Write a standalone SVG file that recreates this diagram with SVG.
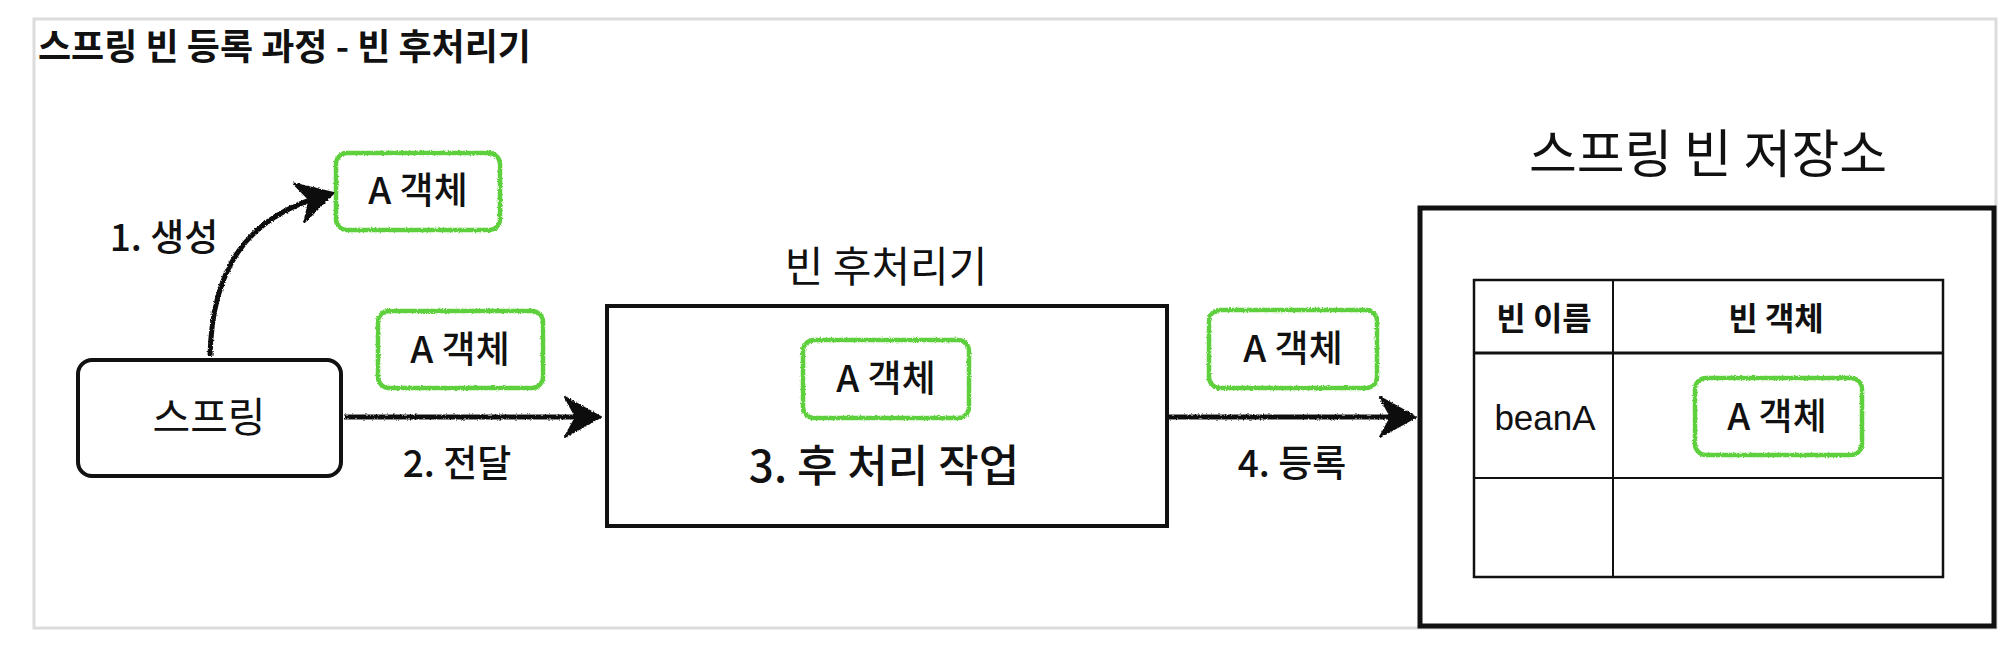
<svg xmlns="http://www.w3.org/2000/svg" width="2000" height="659" viewBox="0 0 2000 659">
<style>
text{font-family:"Noto Sans CJK KR","Noto Sans",sans-serif;fill:#111;}
.obj{fill:#fff;stroke:#5fd03c;stroke-width:4.5;filter:url(#rough);}
.objt{font-size:37px;font-weight:500;text-anchor:middle;}
.lbl{font-size:37px;font-weight:500;text-anchor:middle;}
.conn{fill:none;stroke:#111;stroke-width:5;filter:url(#rough);}
.box{fill:#fff;stroke:#111;}
.th{font-size:32px;font-weight:700;text-anchor:middle;}
</style>
<defs>
<filter id="rough" filterUnits="userSpaceOnUse" x="0" y="0" width="2000" height="659">
<feTurbulence type="fractalNoise" baseFrequency="0.6" numOctaves="2" seed="3" result="n"/>
<feDisplacementMap in="SourceGraphic" in2="n" scale="3" xChannelSelector="R" yChannelSelector="G"/>
</filter>
<marker id="ah" markerUnits="userSpaceOnUse" viewBox="0 0 40 44" refX="26" refY="22" markerWidth="40" markerHeight="44" orient="auto">
<path d="M1,2 L37,22 L1,42 L12,22 Z" fill="#111" stroke="#111" stroke-width="2" stroke-linejoin="round"/>
</marker>
</defs>
<rect width="2000" height="659" fill="#fff"/>
<rect id="frame" x="34" y="19" width="1962" height="609" fill="none" stroke="#dcdcdc" stroke-width="3"/>
<text id="title" x="38" y="60" style="font-size:36px;font-weight:700;">스프링 빈 등록 과정 - 빈 후처리기</text>

<g id="spring">
<rect class="box" x="78" y="360" width="263" height="116" rx="14" stroke-width="4"/>
<text x="209" y="432" style="font-size:41px;text-anchor:middle;">스프링</text>
</g>

<g id="objCreated">
<rect class="obj" x="336" y="153" width="164" height="77" rx="11"/>
<text class="objt" x="418" y="204">A 객체</text>
</g>

<g id="objPassed">
<rect class="obj" x="378" y="311" width="165" height="77" rx="11"/>
<text class="objt" x="460" y="363">A 객체</text>
</g>

<g id="postProcessor">
<text x="886" y="282" style="font-size:42px;text-anchor:middle;">빈 후처리기</text>
<rect class="box" x="607" y="306" width="560" height="220" stroke-width="4"/>
<rect class="obj" x="803" y="340" width="166" height="78" rx="11"/>
<text class="objt" x="886" y="392">A 객체</text>
<text x="884" y="482" style="font-size:44px;font-weight:500;text-anchor:middle;">3. 후 처리 작업</text>
</g>

<g id="objRegistered">
<rect class="obj" x="1209" y="310" width="168" height="78" rx="11"/>
<text class="objt" x="1293" y="362">A 객체</text>
</g>

<g id="beanStore">
<text x="1708" y="173" style="font-size:52px;text-anchor:middle;">스프링 빈 저장소</text>
<rect class="box" x="1420" y="208" width="574" height="418" stroke-width="5"/>
<g id="table">
<rect x="1474" y="280" width="469" height="297" fill="#fff" stroke="#111" stroke-width="2.5"/>
<line x1="1613" y1="280" x2="1613" y2="577" stroke="#111" stroke-width="2"/>
<line x1="1474" y1="353" x2="1943" y2="353" stroke="#111" stroke-width="3"/>
<line x1="1474" y1="478" x2="1943" y2="478" stroke="#111" stroke-width="2"/>
<text class="th" x="1544" y="330">빈 이름</text>
<text class="th" x="1776" y="330">빈 객체</text>
<text x="1545" y="430" style="font-family:'Liberation Sans',Arial,sans-serif;font-size:35px;text-anchor:middle;">beanA</text>
<rect class="obj" x="1695" y="378" width="167" height="77" rx="11"/>
<text class="objt" x="1777" y="430">A 객체</text>
</g>
</g>

<g id="connectors">
<path class="conn" d="M210,356 C212,270 245,218 323,196" marker-end="url(#ah)"/>
<path class="conn" d="M344,417 L590,417" marker-end="url(#ah)"/>
<path class="conn" d="M1168,417 L1405,417" marker-end="url(#ah)"/>
<text class="lbl" x="164" y="251">1. 생성</text>
<text class="lbl" x="457" y="477">2. 전달</text>
<text class="lbl" x="1292" y="477">4. 등록</text>
</g>
</svg>
